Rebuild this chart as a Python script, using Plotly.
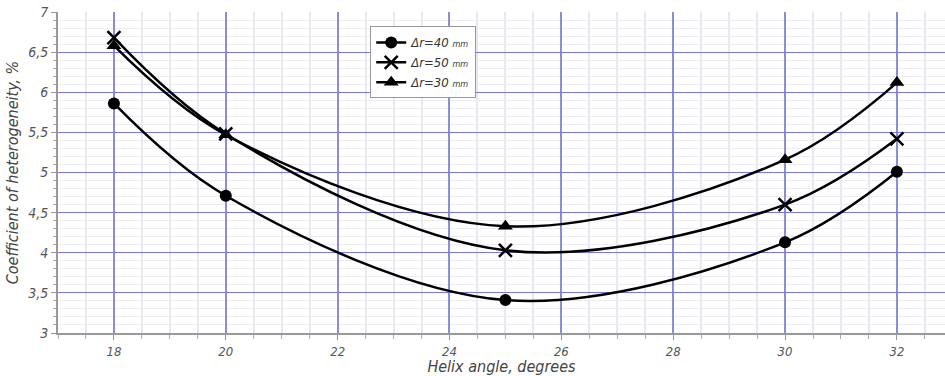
import plotly.graph_objects as go

angles = [18, 20, 25, 30, 32]
dr40 = [5.86, 4.71, 3.41, 4.13, 5.01]
dr50 = [6.68, 5.48, 4.03, 4.60, 5.42]
dr30 = [6.58, 5.47, 4.33, 5.16, 6.12]

series_names = ["Δr=40 <span style='font-size:9px'>mm</span>",
                "Δr=50 <span style='font-size:9px'>mm</span>",
                "Δr=30 <span style='font-size:9px'>mm</span>"]
x_ticks = [18, 20, 22, 24, 26, 28, 30, 32]
y_ticks = [3, 3.5, 4, 4.5, 5, 5.5, 6, 6.5, 7]
y_ticktext = ["3", "3,5", "4", "4,5", "5", "5,5", "6", "6,5", "7"]

FONT = "DejaVu Sans Condensed, DejaVu Sans, sans-serif"

fig = go.Figure()
markers = [dict(symbol="circle", size=12, color="black"),
           dict(symbol="x-thin", size=13, color="black", line=dict(width=2.5, color="black")),
           dict(symbol="triangle-up", size=13, color="black")]
for name, ys, mk in zip(series_names, [dr40, dr50, dr30], markers):
    fig.add_trace(go.Scatter(
        x=angles, y=ys, name=name, mode="lines+markers",
        line=dict(color="black", width=2.5, shape="spline", smoothing=1.0),
        marker=mk))

fig.update_layout(
    width=945, height=376,
    margin=dict(l=58, r=0, t=12, b=43),
    paper_bgcolor="white", plot_bgcolor="white",
    font=dict(family=FONT, color="#444", size=13),
    showlegend=True,
    legend=dict(x=0.352, y=0.955, xanchor="left", yanchor="top",
                bgcolor="white", bordercolor="#999", borderwidth=1,
                font=dict(family=FONT, size=13, color="#333", style="italic"),
                tracegroupgap=0, itemwidth=30),
)
fig.update_xaxes(
    range=[17, 32.86], tickvals=x_ticks, showgrid=True,
    gridcolor="#8c8cd8", gridwidth=1.5,
    showline=True, linecolor="#999", linewidth=2,
    ticks="outside", ticklen=5, tickcolor="#999",
    tickfont=dict(family=FONT, size=13, color="#555", style="italic"),
    zeroline=False,
    minor=dict(dtick=0.5, showgrid=True, gridcolor="#e8e8f0", ticks="outside", ticklen=4, tickcolor="#aaa"),
    title=dict(text="Helix angle, degrees", standoff=2,
               font=dict(family=FONT, size=16, color="#444", style="italic")),
)
fig.update_yaxes(
    range=[3, 7], tickvals=y_ticks, ticktext=y_ticktext, showgrid=True,
    gridcolor="#7878ec", gridwidth=1.2,
    showline=True, linecolor="#999", linewidth=2,
    ticks="outside", ticklen=5, tickcolor="#999",
    tickfont=dict(family=FONT, size=14, color="#555", style="italic"),
    zeroline=False,
    minor=dict(dtick=0.1, showgrid=True, gridcolor="#ececf2", ticks="outside", ticklen=3, tickcolor="#aaa"),
    title=dict(text="Coefficient of heterogeneity, %", standoff=6,
               font=dict(family=FONT, size=16, color="#444", style="italic")),
)

fig.write_html("out.html")
